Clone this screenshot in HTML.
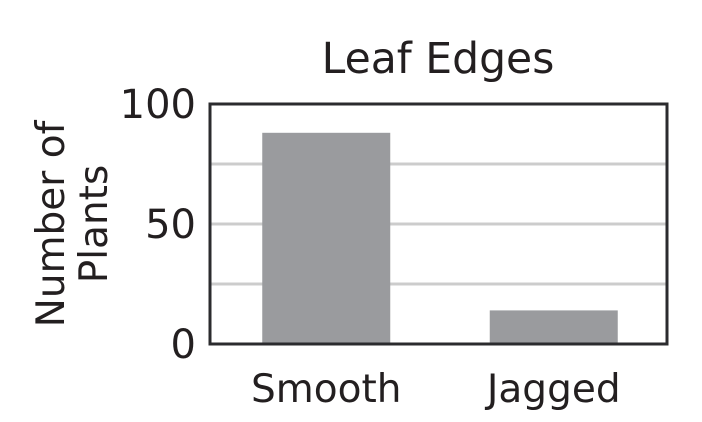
<!DOCTYPE html>
<html><head><meta charset="utf-8"><style>
html,body{margin:0;padding:0;background:#fff;}
svg{display:block;font-family:"DejaVu Sans","Liberation Sans",sans-serif;fill:#231f20;}
</style></head><body>
<svg width="702" height="422" viewBox="0 0 702 422">
<text x="438" y="73" font-size="42.5" text-anchor="middle">Leaf Edges</text>
<g transform="translate(64,224) rotate(-90)">
<text x="0" y="0" font-size="39" text-anchor="middle">Number of</text>
<text x="0" y="43" font-size="39" text-anchor="middle">Plants</text>
</g>
<g id="grid"></g>
<g id="bars"></g>
<g id="ticks"></g>
<rect x="210" y="104" width="457" height="240" fill="none" stroke="#2b2b2e" stroke-width="3"/>
</svg>
<script>
const categories=["Smooth","Jagged"];
const values=[88,14];
const tickValues=[0,50,100];
const gridValues=[25,50,75];
const ns="http://www.w3.org/2000/svg";
const x0=210,x1=667,y0=344,y1=104,maxV=100;
function yS(v){return y0-(v/maxV)*(y0-y1);}
const bandW=(x1-x0)/categories.length, barW=128;
function xC(i){return x0+bandW*(i+0.5)+2-i;}
function mk(t,a,p){const e=document.createElementNS(ns,t);for(const k in a)e.setAttribute(k,a[k]);p.appendChild(e);return e;}
const grid=document.getElementById('grid'),bars=document.getElementById('bars'),ticks=document.getElementById('ticks');
gridValues.forEach(v=>{const l=mk('line',{x1:x0,x2:x1,y1:yS(v),y2:yS(v),stroke:'#cccccc','stroke-width':3},grid);

});
categories.forEach((c,i)=>{const r=mk('rect',{x:xC(i)-barW/2,y:yS(values[i]),width:barW,height:y0-yS(values[i]),fill:'#9a9b9e'},bars);


const t=mk('text',{x:xC(i),y:402,'font-size':39,'text-anchor':'middle'},ticks);t.textContent=c;

});
tickValues.forEach(v=>{const t=mk('text',{x:196,y:yS(v)+14,'font-size':40,'text-anchor':'end'},ticks);t.textContent=v;

});
</script>
</body></html>
